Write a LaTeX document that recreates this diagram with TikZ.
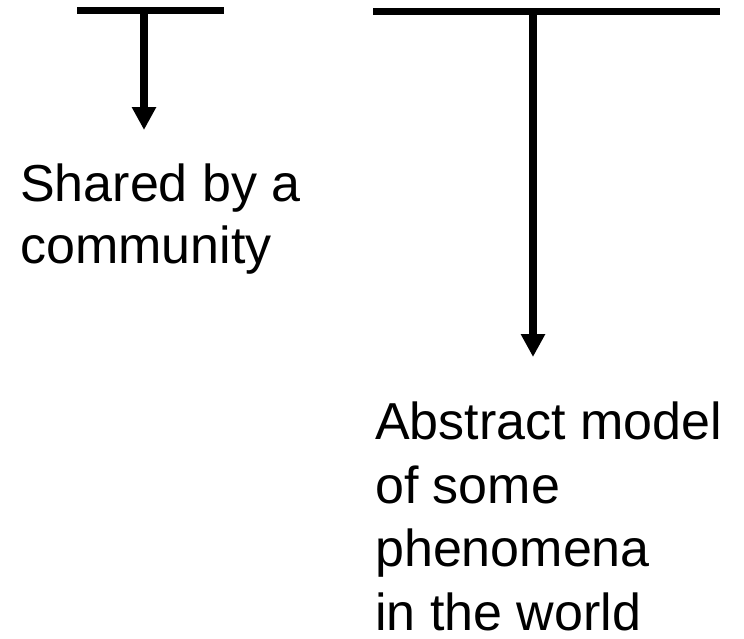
\documentclass[tikz,border=0pt]{standalone}
\usepackage{fontspec}
\setmainfont{Liberation Sans}
\usetikzlibrary{arrows.meta}
\begin{document}
\begin{tikzpicture}[x=1pt,y=-1pt,
  bar/.style={line width=7.5pt},
  pointer/.style={line width=8pt,-{Triangle[width=23pt,length=23pt]}},
  label/.style={anchor=base west,align=left,inner sep=0pt,
    font=\fontsize{52}{62}\selectfont}]
  \useasboundingbox (0,0) rectangle (744,638);
  % left tee
  \coordinate (lbA) at (77,10.5);
  \coordinate (lbB) at (224,10.5);
  \coordinate (lstem) at (144,10.5);
  \coordinate (ltip) at (144,130);
  \draw[bar] (lbA) -- (lbB);
  \draw[pointer] (lstem) -- (ltip);
  % right tee
  \coordinate (rbA) at (373,11.5);
  \coordinate (rbB) at (720,11.5);
  \coordinate (rstem) at (533,11.5);
  \coordinate (rtip) at (533,357);
  \draw[bar] (rbA) -- (rbB);
  \draw[pointer] (rstem) -- (rtip);
  % labels (base anchor sits on the last line's baseline)
  \node[label] (shared) at (20,263) {Shared by a\\community};
  \node[label,font=\fontsize{52}{63.5}\selectfont,text depth=0pt] (model) at (375,630)
    {Abstract model\\of some\\phenomena\\in the world};
\end{tikzpicture}
\end{document}
